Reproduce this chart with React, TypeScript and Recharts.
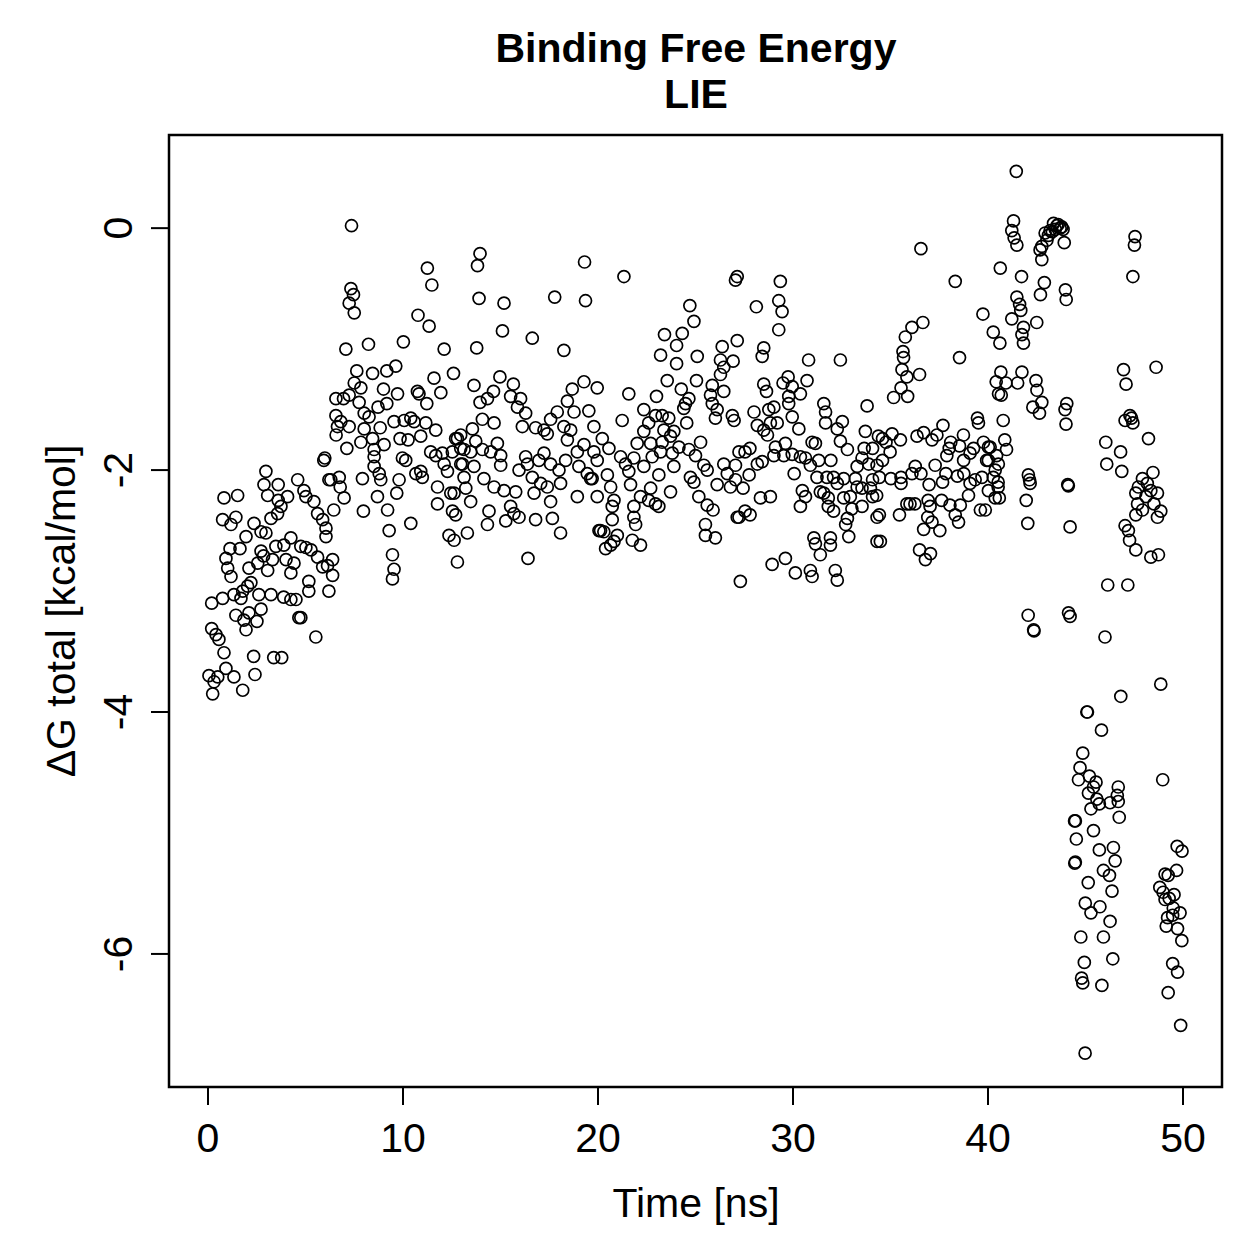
import React from 'react';
import { ScatterChart, Scatter, XAxis, YAxis, ReferenceArea } from 'recharts';

const titleLine1 = 'Binding Free Energy';
const titleLine2 = 'LIE';
const xLabel = 'Time [ns]';
const yLabel = 'ΔG total [kcal/mol]';
const xTicks = [0, 10, 20, 30, 40, 50];
const yTicks = [-6, -4, -2, 0];

// Time [ns], ΔG [kcal/mol]
const segA: [number, number][] = [
  [0.24,-3.85],[0.31,-3.75],[0.05,-3.70],[0.50,-3.71],[0.92,-3.64],[1.33,-3.71],[1.78,-3.82],[2.41,-3.69],[2.34,-3.54],[3.37,-3.55],[3.78,-3.55],[5.53,-3.38],
  [0.19,-3.31],[0.41,-3.36],[0.56,-3.40],[0.82,-3.51],[0.19,-3.10],[0.75,-3.06],[1.33,-3.03],[1.43,-3.20],[1.84,-3.24],[1.95,-3.32],[2.10,-3.18],[2.51,-3.25],
  [2.72,-3.15],[1.69,-3.06],[1.78,-3.00],[2.03,-2.96],[2.20,-2.93],[2.61,-3.03],[3.23,-3.03],[3.88,-3.05],[4.25,-3.07],[4.51,-3.07],[4.66,-3.22],[4.76,-3.22],
  [5.17,-3.00],[6.20,-3.00],[1.01,-2.81],[1.18,-2.88],[0.92,-2.73],[1.13,-2.65],[1.64,-2.65],[2.10,-2.81],[2.55,-2.77],[2.72,-2.67],[2.85,-2.71],[3.06,-2.83],
  [3.31,-2.74],[3.48,-2.63],[3.89,-2.62],[4.25,-2.56],[4.00,-2.74],[4.25,-2.85],[4.41,-2.77],[4.76,-2.63],[5.02,-2.64],[5.28,-2.66],[5.62,-2.72],[5.88,-2.80],
  [6.13,-2.79],[6.39,-2.74],[5.17,-2.92],[6.39,-2.87],[0.75,-2.41],[1.18,-2.45],[1.43,-2.39],[0.82,-2.23],[1.52,-2.21],[1.95,-2.55],[2.36,-2.44],[2.72,-2.51],
  [2.97,-2.52],[3.23,-2.40],[3.57,-2.36],[4.08,-2.22],[3.60,-2.25],[3.74,-2.30],[3.06,-2.21],[2.97,-2.01],[2.87,-2.12],[3.60,-2.12],[4.60,-2.08],[4.92,-2.17],
  [5.02,-2.22],[5.43,-2.26],[5.62,-2.36],[5.88,-2.41],[6.05,-2.48],[6.05,-2.55],[6.45,-2.33],[5.94,-1.92],[6.20,-2.08],[6.56,-1.55],[6.64,-1.64],[6.57,-1.71],
];

const segB: [number, number][] = [
  [7.36,0.02],[7.33,-0.50],[7.46,-0.55],[7.24,-0.62],[7.50,-0.70],[11.25,-0.33],[11.48,-0.47],[10.77,-0.72],[11.34,-0.81],[7.07,-1.00],[8.23,-0.96],[10.02,-0.94],
  [12.11,-1.00],[7.63,-1.18],[8.44,-1.20],[9.17,-1.18],[9.63,-1.14],[11.59,-1.24],[12.59,-1.20],[7.50,-1.28],[7.84,-1.32],[6.56,-1.41],[6.95,-1.41],[7.24,-1.38],
  [7.75,-1.44],[9.00,-1.33],[9.72,-1.37],[10.74,-1.35],[10.82,-1.37],[11.94,-1.36],[11.22,-1.45],[9.17,-1.45],[8.72,-1.48],[8.01,-1.53],[8.26,-1.56],[6.81,-1.60],
  [7.24,-1.64],[7.12,-1.82],[8.01,-1.66],[8.44,-1.74],[8.83,-1.65],[9.54,-1.60],[10.06,-1.59],[10.40,-1.57],[10.57,-1.60],[11.17,-1.61],[11.68,-1.67],[7.84,-1.77],
  [9.03,-1.79],[9.85,-1.74],[10.26,-1.75],[10.91,-1.72],[8.52,-1.83],[8.52,-1.89],[9.97,-1.90],[10.14,-1.92],[11.42,-1.85],[11.68,-1.88],[12.02,-1.86],[12.79,-1.74],
  [12.96,-1.82],[8.52,-1.97],[8.78,-2.03],[8.86,-2.08],[9.80,-2.08],[10.66,-2.03],[10.91,-2.01],[10.99,-2.06],[12.11,-1.95],[12.28,-2.01],[13.05,-1.95],[13.13,-2.06],
  [5.99,-1.90],[6.30,-2.08],[6.73,-2.06],[6.78,-2.14],[6.98,-2.23],[7.92,-2.07],[8.69,-2.22],[9.68,-2.19],[9.21,-2.33],[11.77,-2.14],[12.45,-2.19],[11.77,-2.28],
  [7.97,-2.34],[9.29,-2.50],[10.40,-2.44],[12.54,-2.34],[12.70,-2.37],[12.36,-2.54],[12.62,-2.58],[13.30,-2.52],[9.46,-2.70],[9.54,-2.82],[9.46,-2.90],[12.79,-2.76],
];

const segC: [number, number][] = [
  [13.95,-0.21],[13.82,-0.31],[19.31,-0.28],[13.90,-0.58],[15.18,-0.62],[17.78,-0.57],[19.36,-0.60],[15.10,-0.85],[16.63,-0.91],[13.78,-0.99],[18.25,-1.01],[14.97,-1.23],
  [13.64,-1.30],[15.66,-1.29],[14.64,-1.35],[14.33,-1.41],[13.95,-1.44],[15.52,-1.39],[16.03,-1.41],[15.87,-1.48],[16.29,-1.53],[18.68,-1.33],[19.28,-1.27],[19.96,-1.32],
  [18.43,-1.43],[18.77,-1.52],[19.53,-1.51],[14.07,-1.58],[14.67,-1.61],[13.56,-1.66],[16.12,-1.64],[16.80,-1.65],[17.23,-1.67],[17.57,-1.58],[17.91,-1.52],[18.25,-1.64],
  [18.60,-1.67],[19.79,-1.64],[12.70,-1.74],[12.96,-1.71],[13.73,-1.76],[14.84,-1.78],[17.40,-1.70],[18.43,-1.75],[18.94,-1.85],[19.28,-1.79],[12.53,-1.85],[13.13,-1.83],
  [13.47,-1.85],[14.07,-1.83],[14.50,-1.85],[15.01,-1.88],[12.96,-1.95],[13.64,-1.97],[15.01,-1.96],[16.29,-1.89],[16.38,-1.95],[15.95,-2.00],[16.97,-1.92],[17.23,-1.86],
  [17.57,-1.95],[18.00,-2.00],[18.34,-1.92],[19.02,-1.97],[19.45,-2.03],[19.62,-2.07],[19.96,-1.92],[14.15,-2.07],[16.63,-2.06],[17.06,-2.11],[17.40,-2.14],[18.08,-2.11],
  [12.62,-2.19],[13.22,-2.15],[14.67,-2.14],[15.18,-2.17],[15.78,-2.18],[16.72,-2.19],[17.57,-2.26],[18.94,-2.22],[19.96,-2.22],[13.47,-2.26],[15.52,-2.30],[15.69,-2.36],
  [15.95,-2.39],[14.41,-2.34],[14.33,-2.45],[15.27,-2.42],[16.80,-2.41],[17.66,-2.40],[18.08,-2.52],[20.05,-2.50],[16.41,-2.73],
];

const segD: [number, number][] = [
  [21.33,-0.40],[27.14,-0.40],[27.05,-0.43],[24.71,-0.64],[24.92,-0.77],[23.41,-0.88],[24.32,-0.87],[24.03,-0.97],[26.37,-0.98],[27.14,-0.93],[23.21,-1.05],[25.09,-1.06],
  [24.03,-1.12],[26.28,-1.09],[26.45,-1.15],[26.93,-1.10],[26.28,-1.21],[23.55,-1.26],[25.05,-1.26],[21.58,-1.37],[23.00,-1.39],[24.27,-1.33],[25.86,-1.30],[26.45,-1.35],
  [24.66,-1.41],[24.49,-1.45],[24.40,-1.49],[25.77,-1.38],[25.86,-1.45],[26.11,-1.50],[22.35,-1.50],[23.29,-1.55],[23.63,-1.57],[22.95,-1.55],[24.55,-1.61],[26.89,-1.55],
  [26.98,-1.59],[26.02,-1.57],[21.24,-1.59],[22.60,-1.61],[22.35,-1.68],[23.38,-1.67],[23.89,-1.68],[22.01,-1.78],[22.70,-1.78],[23.29,-1.77],[23.72,-1.72],[24.15,-1.81],
  [25.26,-1.77],[20.22,-1.74],[20.56,-1.82],[19.79,-1.85],[27.23,-1.85],[21.16,-1.89],[21.84,-1.90],[22.78,-1.89],[23.21,-1.85],[23.81,-1.86],[24.66,-1.83],[25.00,-1.88],
  [19.70,-2.07],[20.48,-2.04],[21.41,-1.95],[21.58,-2.01],[22.35,-1.97],[23.12,-2.04],[23.89,-1.97],[24.74,-2.06],[25.43,-1.96],[25.60,-2.00],[26.45,-1.95],[26.63,-2.03],
  [27.05,-1.96],[26.11,-2.12],[26.79,-2.14],[20.65,-2.14],[21.67,-2.12],[22.70,-2.15],[23.72,-2.18],[24.92,-2.10],[25.17,-2.22],[20.82,-2.25],[22.18,-2.22],[22.95,-2.28],
  [23.12,-2.30],[22.60,-2.25],[21.84,-2.30],[20.73,-2.30],[25.60,-2.29],[25.90,-2.33],[27.14,-2.39],[20.73,-2.41],[21.84,-2.39],[21.93,-2.45],[20.13,-2.50],[20.30,-2.51],
  [20.99,-2.54],[20.82,-2.59],[20.39,-2.65],[20.65,-2.62],[21.76,-2.58],[22.18,-2.62],[25.51,-2.45],[25.51,-2.54],[26.02,-2.56],
];

const segE: [number, number][] = [
  [29.35,-0.44],[29.27,-0.60],[29.44,-0.69],[28.12,-0.65],[29.27,-0.84],[28.50,-0.99],[28.42,-1.06],[30.80,-1.09],[32.43,-1.09],[29.75,-1.23],[29.49,-1.28],[30.72,-1.26],
  [28.50,-1.29],[28.64,-1.35],[29.96,-1.31],[30.38,-1.37],[29.78,-1.39],[29.78,-1.45],[29.02,-1.48],[28.76,-1.50],[31.58,-1.45],[31.67,-1.52],[33.80,-1.47],[29.96,-1.56],
  [28.00,-1.52],[31.67,-1.61],[32.53,-1.60],[32.27,-1.66],[33.71,-1.68],[28.17,-1.63],[28.50,-1.67],[28.84,-1.61],[29.19,-1.61],[30.30,-1.66],[28.69,-1.71],[32.43,-1.76],
  [34.38,-1.72],[29.61,-1.78],[30.98,-1.77],[31.15,-1.78],[32.79,-1.83],[33.65,-1.82],[34.08,-1.82],[27.54,-1.85],[27.79,-1.82],[29.10,-1.81],[29.02,-1.88],[29.53,-1.88],
  [29.96,-1.87],[30.38,-1.89],[30.64,-1.90],[31.32,-1.92],[31.94,-1.92],[33.54,-1.90],[33.88,-1.95],[28.17,-1.95],[28.42,-1.93],[30.89,-1.96],[33.29,-1.97],[34.31,-1.96],
  [30.06,-2.03],[27.75,-2.04],[31.23,-2.06],[31.74,-2.06],[32.08,-2.06],[32.60,-2.07],[33.20,-2.07],[34.08,-2.08],[27.05,-2.08],[32.27,-2.11],[33.29,-2.14],[33.54,-2.15],
  [33.97,-2.15],[27.44,-2.15],[30.48,-2.17],[31.40,-2.18],[31.58,-2.19],[30.64,-2.22],[31.81,-2.23],[32.60,-2.23],[32.94,-2.22],[28.33,-2.23],[28.84,-2.22],[34.08,-2.22],
  [30.38,-2.30],[31.81,-2.30],[32.08,-2.34],[33.02,-2.32],[33.54,-2.30],[27.54,-2.34],[27.23,-2.39],[27.80,-2.37],[32.79,-2.40],[32.70,-2.45],[34.31,-2.39],[31.07,-2.56],
  [31.15,-2.61],[31.92,-2.56],[31.92,-2.62],[32.86,-2.55],[34.31,-2.59],[31.40,-2.70],[29.61,-2.73],[28.93,-2.78],[30.12,-2.85],[30.89,-2.83],[30.98,-2.88],[32.17,-2.83],
  [32.27,-2.91],[27.30,-2.92],
];

const segF: [number, number][] = [
  [36.56,-0.17],[38.32,-0.44],[40.63,-0.33],[39.74,-0.71],[36.66,-0.78],[36.10,-0.82],[35.76,-0.90],[38.54,-1.07],[35.64,-1.02],[35.67,-1.07],[35.59,-1.17],[35.84,-1.23],
  [36.49,-1.21],[35.54,-1.32],[35.16,-1.40],[35.88,-1.39],[40.42,-1.27],[40.54,-1.37],[39.46,-1.57],[39.51,-1.61],[37.69,-1.63],[38.74,-1.71],[36.36,-1.72],[36.70,-1.69],
  [37.38,-1.71],[37.13,-1.75],[38.09,-1.77],[38.54,-1.80],[35.08,-1.70],[35.51,-1.75],[34.59,-1.74],[34.77,-1.77],[39.77,-1.77],[40.11,-1.81],[39.26,-1.82],[34.98,-1.85],
  [34.59,-1.92],[36.27,-1.97],[36.10,-2.03],[37.29,-1.96],[37.89,-1.88],[38.01,-1.82],[38.75,-1.92],[39.08,-1.86],[39.93,-1.92],[40.44,-1.88],[34.43,-2.06],[35.02,-2.07],
  [35.54,-2.11],[35.54,-2.06],[36.56,-2.03],[36.98,-2.12],[37.67,-2.10],[37.84,-2.03],[38.43,-2.05],[38.76,-2.03],[39.08,-2.11],[39.34,-2.08],[39.69,-2.06],[40.27,-2.06],
  [40.52,-2.14],[34.29,-2.21],[35.84,-2.28],[36.00,-2.28],[36.25,-2.28],[36.93,-2.25],[37.03,-2.30],[37.62,-2.25],[38.05,-2.29],[38.58,-2.29],[39.00,-2.21],[39.61,-2.33],
  [39.86,-2.33],[40.37,-2.23],[34.43,-2.37],[35.46,-2.37],[36.91,-2.39],[37.13,-2.43],[38.32,-2.37],[38.49,-2.43],[36.70,-2.49],[37.53,-2.50],[34.48,-2.59],[36.49,-2.66],
  [36.79,-2.74],[37.05,-2.69],
];

const segG: [number, number][] = [
  [41.45,0.47],[41.31,0.06],[41.22,-0.02],[41.34,-0.08],[41.48,-0.14],[43.36,0.04],[43.53,0.02],[43.70,0.00],[43.78,0.01],[43.19,-0.02],[42.93,-0.04],[43.02,-0.10],
  [42.76,-0.15],[42.67,-0.18],[43.91,-0.12],[43.45,-0.01],[43.60,0.03],[43.85,-0.01],[43.10,-0.06],[43.30,-0.03],[42.76,-0.26],[41.72,-0.40],[42.89,-0.45],[42.69,-0.55],
  [43.97,-0.51],[44.01,-0.59],[41.48,-0.57],[41.62,-0.63],[41.68,-0.68],[41.22,-0.75],[42.50,-0.78],[41.82,-0.82],[40.27,-0.86],[40.61,-0.95],[41.82,-0.95],[41.74,-0.88],
  [41.74,-1.19],[40.66,-1.19],[40.92,-1.28],[40.68,-1.38],[41.52,-1.28],[42.46,-1.26],[42.51,-1.34],[42.76,-1.44],[42.30,-1.48],[42.64,-1.53],[44.04,-1.45],[43.95,-1.50],
  [44.00,-1.62],[40.78,-1.59],[40.86,-1.75],[40.95,-1.83],[40.02,-1.81],[40.02,-1.92],[40.53,-1.95],[40.37,-2.00],[40.52,-2.10],[40.02,-2.17],[40.58,-2.23],[42.07,-2.04],
  [42.13,-2.08],[42.16,-2.11],[44.09,-2.12],[44.12,-2.13],[41.96,-2.25],[42.04,-2.44],[44.21,-2.47],[42.06,-3.20],[42.34,-3.32],[42.36,-3.33],[44.13,-3.18],[44.21,-3.21],
];

const segH: [number, number][] = [
  [47.54,-0.07],[47.51,-0.14],[47.43,-0.40],[46.95,-1.17],[47.08,-1.29],[48.62,-1.15],[47.28,-1.55],[47.36,-1.57],[47.03,-1.59],[47.43,-1.61],[46.04,-1.77],[48.23,-1.74],
  [46.80,-1.85],[46.09,-1.95],[46.86,-2.01],[48.46,-2.02],[47.92,-2.07],[48.17,-2.11],[47.71,-2.14],[47.58,-2.19],[48.35,-2.17],[48.69,-2.19],[48.10,-2.22],[47.67,-2.28],
  [47.92,-2.33],[48.51,-2.28],[48.86,-2.34],[48.69,-2.39],[47.58,-2.37],[47.03,-2.46],[47.20,-2.50],[47.26,-2.58],[47.58,-2.66],[48.35,-2.72],[48.74,-2.70],[46.14,-2.95],
  [47.17,-2.95],[46.00,-3.38],[48.86,-3.77],[46.81,-3.87],[45.07,-4.00],[45.10,-4.00],[45.82,-4.15],[44.86,-4.34],[44.72,-4.46],[44.64,-4.56],[45.20,-4.53],[45.54,-4.58],
  [45.41,-4.62],[45.15,-4.67],[45.58,-4.72],[45.71,-4.76],[45.28,-4.80],[46.26,-4.75],[46.68,-4.62],[46.63,-4.69],[46.68,-4.74],[46.73,-4.87],[48.96,-4.56],[44.44,-4.90],
  [44.48,-4.90],[44.53,-5.05],[45.41,-4.98],[45.71,-5.14],[46.43,-5.12],[46.52,-5.23],[44.48,-5.24],[44.45,-5.25],[45.92,-5.31],[46.23,-5.35],[45.14,-5.41],[46.36,-5.48],
  [44.99,-5.58],[45.28,-5.66],[45.74,-5.61],[46.26,-5.73],[44.76,-5.86],[45.92,-5.86],[44.94,-6.07],[46.40,-6.04],[44.80,-6.20],[44.86,-6.24],[45.84,-6.26],[44.98,-6.82],
  [49.70,-5.11],[49.95,-5.15],[49.08,-5.34],[49.24,-5.35],[49.67,-5.31],[48.81,-5.45],[48.98,-5.49],[49.54,-5.51],[49.29,-5.54],[49.08,-5.55],[49.50,-5.62],[49.85,-5.66],
  [49.47,-5.68],[49.21,-5.70],[49.14,-5.77],[49.72,-5.79],[49.94,-5.89],[49.47,-6.08],[49.72,-6.15],[49.24,-6.32],[49.88,-6.59],
];

const data = [...segA, ...segB, ...segC, ...segD, ...segE, ...segF, ...segG, ...segH].map(([t, v]) => ({ t, v }));

const FONT = '"Liberation Sans", Arial, Helvetica, sans-serif';
const W = 1243;
const H = 1243;

const XTick = (props: any) => {
  const { x, y, payload } = props;
  return (
    <text x={x} y={y} dy={45} textAnchor="middle" fontSize={41} fontFamily={FONT} fill="#000">
      {String(payload.value)}
    </text>
  );
};

const YTick = (props: any) => {
  const { x, y, payload } = props;
  return (
    <text transform={`translate(${x - 17},${y}) rotate(-90)`} textAnchor="middle" fontSize={41} fontFamily={FONT} fill="#000">
      {String(payload.value)}
    </text>
  );
};

const Dot = (props: any) => {
  const { cx, cy } = props;
  if (cx == null || cy == null) return null;
  return <circle cx={cx} cy={cy} r={6} fill="none" stroke="#000" strokeWidth={1.7} />;
};

export default function App() {
  return (
    <div style={{ position: 'relative', width: W, height: H, background: '#fff' }}>
      <ScatterChart width={W} height={H} margin={{ top: 127, right: 29, bottom: 0, left: 0 }}>
        <XAxis
          type="number"
          dataKey="t"
          domain={[-2, 52]}
          ticks={xTicks}
          allowDataOverflow
          axisLine={false}
          tickLine={{ stroke: '#000', strokeWidth: 2 }}
          tickSize={18}
          tick={<XTick />}
          height={164}
          interval={0}
        />
        <YAxis
          type="number"
          dataKey="v"
          domain={[-7.1, 0.77]}
          ticks={yTicks}
          allowDataOverflow
          axisLine={false}
          tickLine={{ stroke: '#000', strokeWidth: 2 }}
          tickSize={18}
          tick={<YTick />}
          width={161}
          interval={0}
        />
        <ReferenceArea x1={-2} x2={52} y1={-7.1} y2={0.77} fill="none" stroke="#000" strokeWidth={2.5} ifOverflow="visible" />
        <Scatter data={data} shape={<Dot />} isAnimationActive={false} />
      </ScatterChart>
      <svg width={W} height={H} style={{ position: 'absolute', left: 0, top: 0, pointerEvents: 'none' }}>
        <text x={688} y={54} textAnchor="middle" fontSize={41} fontWeight="bold" fontFamily={FONT} fill="#000">{titleLine1}</text>
        <text x={688} y={100} textAnchor="middle" fontSize={41} fontWeight="bold" fontFamily={FONT} fill="#000">{titleLine2}</text>
        <text x={688} y={1209} textAnchor="middle" fontSize={41} fontFamily={FONT} fill="#000">{xLabel}</text>
        <text transform="translate(67,603) rotate(-90)" textAnchor="middle" fontSize={41} fontFamily={FONT} fill="#000">{yLabel}</text>
      </svg>
    </div>
  );
}
